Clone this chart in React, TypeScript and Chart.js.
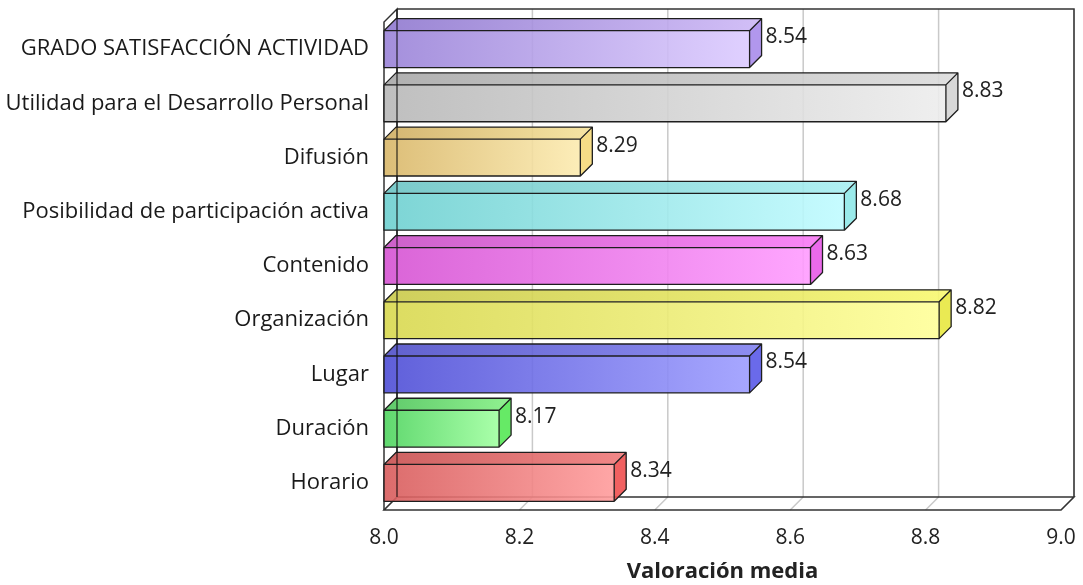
import React, { useEffect, useRef } from "react";
import { Chart, registerables } from "chart.js";

Chart.register(...registerables);

const categories = [
  "GRADO SATISFACCIÓN ACTIVIDAD",
  "Utilidad para el Desarrollo Personal",
  "Difusión",
  "Posibilidad de participación activa",
  "Contenido",
  "Organización",
  "Lugar",
  "Duración",
  "Horario",
];
const values = [8.54, 8.83, 8.29, 8.68, 8.63, 8.82, 8.54, 8.17, 8.34];
const frontLeft = ["#9a83d8", "#b8b8b8", "#d9b769", "#6ed0d0", "#d653d3", "#d8d84f", "#4e4ed6", "#4fd45f", "#d85c5c"];
const frontRight = ["#dccbff", "#ededed", "#fcebb0", "#c0fbff", "#ff9cff", "#ffff99", "#9d9dff", "#a0ffa0", "#ff9c9c"];
const topLeft = ["#8f78cf", "#a8a8a8", "#cfae62", "#6cc4c4", "#c850c5", "#c9c94a", "#5050c8", "#4ec45a", "#c85050"];
const topRight = ["#cdb8f6", "#dcdcdc", "#f5e29a", "#a8eff2", "#f87af5", "#f8f870", "#8282f0", "#84f084", "#f07a7a"];
const sideColors = ["#a98ceb", "#d4d4d4", "#f5d97a", "#8fe8e8", "#e85ae8", "#e8e840", "#5a5ae8", "#55e855", "#f05050"];
const xTicks = [8.0, 8.2, 8.4, 8.6, 8.8, 9.0];
const xMin = 8;
const xMax = 9;
const axisTitle = "Valoración media";

const WALL = 13;
const DEPTH = 12;
const FONT = "'Open Sans', 'Noto Sans', sans-serif";

const threeD = {
  id: "threeD",
  beforeDatasetsDraw(chart: any) {
    const { ctx, chartArea: a, scales } = chart;
    const xs = scales.x;
    ctx.save();
    ctx.fillStyle = "#ffffff";
    ctx.fillRect(a.left + WALL, a.top - WALL, a.right - a.left, a.bottom - a.top);
    ctx.strokeStyle = "#c9c9c9";
    ctx.lineWidth = 1.5;
    xTicks.forEach((t) => {
      const px = xs.getPixelForValue(t) + WALL;
      ctx.beginPath();
      ctx.moveTo(px, a.top - WALL);
      ctx.lineTo(px, a.bottom - WALL);
      ctx.stroke();
      ctx.beginPath();
      ctx.moveTo(px - WALL, a.bottom);
      ctx.lineTo(px, a.bottom - WALL);
      ctx.stroke();
    });
    ctx.strokeStyle = "#333333";
    ctx.lineWidth = 1.5;
    ctx.beginPath();
    ctx.moveTo(a.left + WALL, a.top - WALL);
    ctx.lineTo(a.right + WALL, a.top - WALL);
    ctx.lineTo(a.right + WALL, a.bottom - WALL);
    ctx.stroke();
    ctx.beginPath();
    ctx.moveTo(a.left, a.bottom);
    ctx.lineTo(a.right, a.bottom);
    ctx.lineTo(a.right + WALL, a.bottom - WALL);
    ctx.lineTo(a.left + WALL, a.bottom - WALL);
    ctx.closePath();
    ctx.stroke();
    ctx.beginPath();
    ctx.moveTo(a.left, a.bottom);
    ctx.lineTo(a.left, a.top);
    ctx.lineTo(a.left + WALL, a.top - WALL);
    ctx.lineTo(a.left + WALL, a.bottom - WALL);
    ctx.stroke();
    ctx.restore();
  },
  afterDatasetsDraw(chart: any) {
    const { ctx, chartArea: a, scales } = chart;
    const xs = scales.x;
    const meta = chart.getDatasetMeta(0);
    const basePx = xs.getPixelForValue(xMin);
    ctx.save();
    meta.data.forEach((el: any, i: number) => {
      const props = el.getProps(["x", "y", "height"], true);
      const x = props.x;
      const y = props.y;
      const h = props.height;
      const t = y - h / 2;
      const b = y + h / 2;
      const d = DEPTH;
      ctx.lineJoin = "round";
      ctx.globalAlpha = 0.9;
      let g = ctx.createLinearGradient(basePx, 0, x + d, 0);
      g.addColorStop(0, topLeft[i]);
      g.addColorStop(1, topRight[i]);
      ctx.fillStyle = g;
      ctx.beginPath();
      ctx.moveTo(basePx, t);
      ctx.lineTo(x, t);
      ctx.lineTo(x + d, t - d);
      ctx.lineTo(basePx + d, t - d);
      ctx.closePath();
      ctx.fill();
      g = ctx.createLinearGradient(basePx, 0, x, 0);
      g.addColorStop(0, frontLeft[i]);
      g.addColorStop(1, frontRight[i]);
      ctx.fillStyle = g;
      ctx.fillRect(basePx, t, x - basePx, h);
      ctx.fillStyle = sideColors[i];
      ctx.beginPath();
      ctx.moveTo(x, t);
      ctx.lineTo(x + d, t - d);
      ctx.lineTo(x + d, b - d);
      ctx.lineTo(x, b);
      ctx.closePath();
      ctx.fill();
      ctx.globalAlpha = 1;
      ctx.strokeStyle = "#1e1e1e";
      ctx.lineWidth = 1.3;
      ctx.beginPath();
      ctx.rect(basePx, t, x - basePx, h);
      ctx.moveTo(basePx, t);
      ctx.lineTo(basePx + d, t - d);
      ctx.lineTo(x + d, t - d);
      ctx.lineTo(x + d, b - d);
      ctx.lineTo(x, b);
      ctx.moveTo(x, t);
      ctx.lineTo(x + d, t - d);
      ctx.stroke();
      ctx.fillStyle = "#222222";
      ctx.font = `21px ${FONT}`;
      ctx.textAlign = "left";
      ctx.textBaseline = "middle";
      ctx.fillText(values[i].toFixed(2), x + d + 4, y - 12);
    });
    ctx.strokeStyle = "rgba(20,20,20,0.75)";
    ctx.lineWidth = 1.3;
    ctx.beginPath();
    ctx.moveTo(a.left + WALL, a.top - WALL);
    ctx.lineTo(a.left + WALL, a.bottom - WALL);
    ctx.stroke();
    ctx.restore();
  },
};

export default function App() {
  const ref = useRef<HTMLCanvasElement | null>(null);
  useEffect(() => {
    if (!ref.current) return;
    const chart = new Chart(ref.current, {
      type: "bar",
      data: {
        labels: categories,
        datasets: [
          {
            data: values,
            base: xMin,
            backgroundColor: "rgba(0,0,0,0)",
            borderWidth: 0,
            categoryPercentage: 1,
            barPercentage: 0.68,
          } as any,
        ],
      },
      options: {
        indexAxis: "y",
        animation: false,
        responsive: false,
        layout: { padding: { top: 22, right: 22, left: 0, bottom: 0 } },
        plugins: { legend: { display: false }, tooltip: { enabled: false } },
        scales: {
          x: {
            type: "linear",
            min: xMin,
            max: xMax,
            afterFit: (s: any) => {
              s.height = 75;
              s.paddingLeft = 0;
              s.paddingRight = 0;
            },
            afterBuildTicks: (s: any) => {
              s.ticks = xTicks.map((v) => ({ value: v }));
            },
            grid: { display: false, drawTicks: false },
            border: { display: false },
            ticks: {
              padding: 15,
              color: "#222222",
              font: { family: FONT, size: 21 },
              callback: (v: any) => Number(v).toFixed(1),
            },
            title: {
              display: true,
              text: axisTitle,
              color: "#222222",
              font: { family: FONT, size: 22, weight: "bold" },
              padding: { top: 4, bottom: 0 },
            },
          },
          y: {
            afterFit: (s: any) => {
              s.width = 384;
              s.paddingTop = 0;
              s.paddingBottom = 0;
            },
            grid: { display: false, drawTicks: false },
            border: { display: false },
            ticks: {
              padding: 15,
              color: "#1a1a1a",
              font: { family: FONT, size: 22 },
            },
          },
        },
      },
      plugins: [threeD],
    });
    return () => chart.destroy();
  }, []);
  return (
    <div style={{ position: "fixed", left: 0, top: 0, width: 1083, height: 585, background: "#fff" }}>
      <canvas ref={ref} width={1083} height={585} />
    </div>
  );
}
